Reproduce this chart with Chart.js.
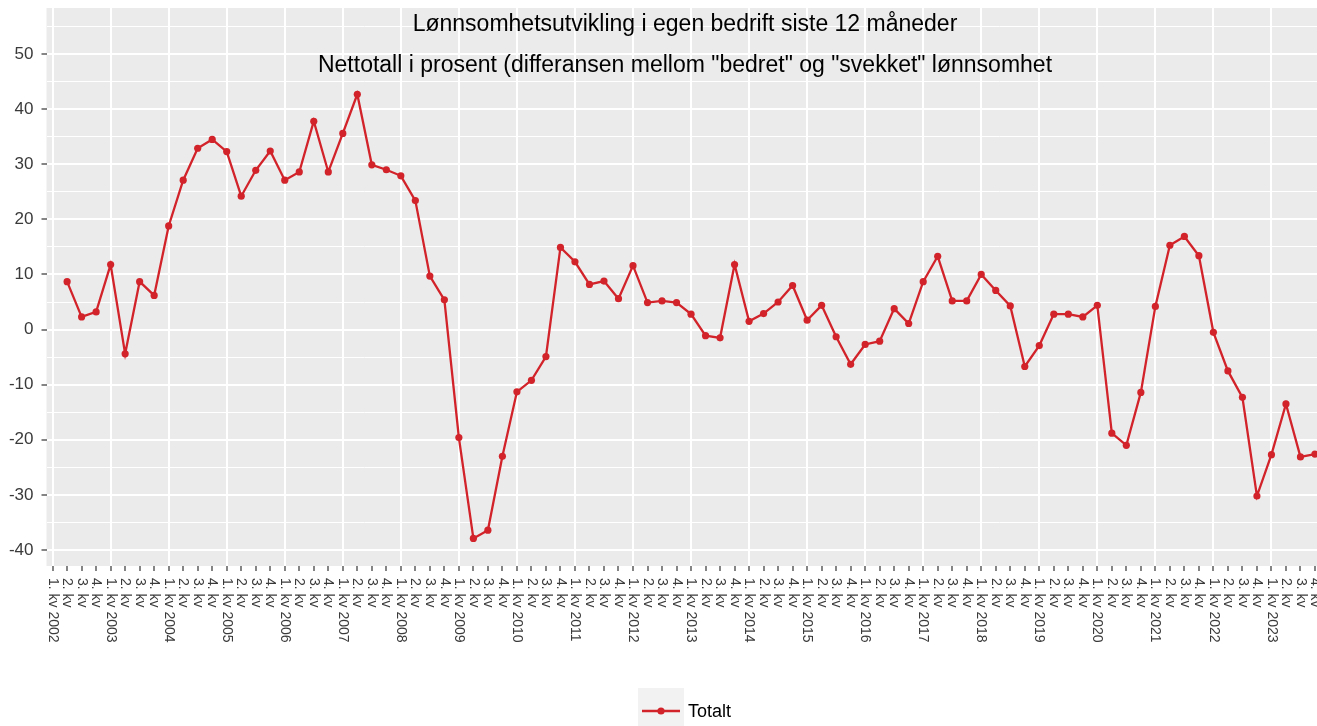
<!DOCTYPE html>
<html>
<head>
<meta charset="utf-8">
<script src="https://cdn.jsdelivr.net/npm/chart.js@4"></script>
<style>
  html, body { margin: 0; padding: 0; background: #fff; }
  canvas { display: block; }
</style>
</head>
<body>
<canvas id="lonnChart" width="1317" height="726"></canvas>
<script>
// Data
var years = [2002, 2003, 2004, 2005, 2006, 2007, 2008, 2009, 2010, 2011, 2012,
             2013, 2014, 2015, 2016, 2017, 2018, 2019, 2020, 2021, 2022, 2023];
var quarterNames = ['1. kv', '2. kv', '3. kv', '4. kv'];
var totalt = [
  null, 8.7, 2.3, 3.2,          // 2002
  11.8, -4.4, 8.7, 6.2,         // 2003
  18.8, 27.1, 32.9, 34.5,       // 2004
  32.3, 24.2, 28.9, 32.4,       // 2005
  27.1, 28.6, 37.8, 28.6,       // 2006
  35.6, 42.7, 29.9, 29.0,       // 2007
  27.9, 23.4, 9.7, 5.4,         // 2008
  -19.6, -37.9, -36.4, -23.0,   // 2009
  -11.3, -9.2, -4.9, 14.9,      // 2010
  12.3, 8.2, 8.8, 5.6,          // 2011
  11.6, 4.9, 5.2, 4.9,          // 2012
  2.8, -1.1, -1.5, 11.8,        // 2013
  1.5, 2.9, 5.0, 8.0,           // 2014
  1.7, 4.4, -1.3, -6.3,         // 2015
  -2.7, -2.1, 3.8, 1.1,         // 2016
  8.7, 13.3, 5.2, 5.2,          // 2017
  10.0, 7.1, 4.3, -6.7,         // 2018
  -2.9, 2.8, 2.8, 2.3,          // 2019
  4.4, -18.8, -21.0, -11.4,     // 2020
  4.2, 15.3, 16.9, 13.4,        // 2021
  -0.5, -7.5, -12.3, -30.2,     // 2022
  -22.7, -13.5, -23.1, -22.6    // 2023
];
var yTickValues = [-40, -35, -30, -25, -20, -15, -10, -5, 0, 5, 10, 15, 20, 25, 30, 35, 40, 45, 50, 55];
var seriesName = 'Totalt';
var titleLines = [
  'Lønnsomhetsutvikling i egen bedrift siste 12 måneder',
  'Nettotall i prosent (differansen mellom "bedret" og "svekket" lønnsomhet'
];

var quarterLabels = [];
years.forEach(function (yr) {
  quarterNames.forEach(function (q, qi) {
    quarterLabels.push(qi === 0 ? q + ' ' + yr : q);
  });
});

var FONT = '"Liberation Sans", Arial, sans-serif';
var RED = '#d2232a';

function noPad(s) {
  s.paddingTop = 0; s.paddingBottom = 0; s.paddingLeft = 0; s.paddingRight = 0;
}

var ggPlugin = {
  id: 'ggStyle',
  beforeDraw: function (chart) {
    var ctx = chart.ctx, a = chart.chartArea;
    ctx.save();
    ctx.fillStyle = '#ffffff';
    ctx.fillRect(0, 0, chart.width, chart.height);
    ctx.fillStyle = '#ebebeb';
    ctx.fillRect(a.left, a.top, a.right - a.left, a.bottom - a.top);
    ctx.restore();
  },
  afterDraw: function (chart) {
    var ctx = chart.ctx, a = chart.chartArea, xs = chart.scales.x;
    ctx.save();
    // rotated quarter labels (reading top to bottom)
    ctx.fillStyle = '#3a3a3a';
    ctx.font = '14px ' + FONT;
    ctx.textAlign = 'left';
    ctx.textBaseline = 'middle';
    quarterLabels.forEach(function (lab, i) {
      var px = xs.getPixelForValue(i);
      ctx.save();
      ctx.translate(px, a.bottom + 12);
      ctx.rotate(Math.PI / 2);
      ctx.fillText(lab, 0, 0);
      ctx.restore();
    });
    // titles inside the panel
    ctx.fillStyle = '#000';
    ctx.font = '23px ' + FONT;
    ctx.textAlign = 'center';
    ctx.fillText(titleLines[0], 685, 25);
    ctx.fillText(titleLines[1], 685, 66);
    // legend
    ctx.fillStyle = '#f2f2f2';
    ctx.fillRect(638, 688, 46, 38);
    ctx.strokeStyle = RED;
    ctx.lineWidth = 2.5;
    ctx.beginPath();
    ctx.moveTo(642, 711);
    ctx.lineTo(680, 711);
    ctx.stroke();
    ctx.fillStyle = RED;
    ctx.beginPath();
    ctx.arc(661, 711, 3.6, 0, Math.PI * 2);
    ctx.fill();
    ctx.fillStyle = '#000';
    ctx.font = '18px ' + FONT;
    ctx.textAlign = 'left';
    ctx.fillText(seriesName, 688, 712);
    ctx.restore();
  }
};

var ctxLine = document.getElementById('lonnChart').getContext('2d');
var lonnChart = new Chart(ctxLine, {
  type: 'line',
  data: {
    datasets: [{
      label: seriesName,
      data: totalt.map(function (v, i) { return { x: i, y: v }; }),
      borderColor: RED,
      backgroundColor: RED,
      borderWidth: 2.3,
      pointRadius: 3.6,
      pointHoverRadius: 3.6,
      pointBorderWidth: 0,
      pointBackgroundColor: RED,
      tension: 0
    }]
  },
  options: {
    responsive: false,
    animation: false,
    layout: { autoPadding: false, padding: { top: 8, left: 0, right: 0, bottom: 154 } },
    plugins: {
      legend: { display: false },
      tooltip: { enabled: false }
    },
    scales: {
      x: {
        type: 'linear',
        min: -0.42,
        max: 87.14,
        afterBuildTicks: function (s) {
          s.ticks = quarterLabels.map(function (l, i) { return { value: i }; });
        },
        afterFit: function (s) { s.height = 6; noPad(s); },
        ticks: { display: false },
        border: { display: false },
        grid: {
          color: function (c) {
            return c.tick && c.tick.value % 4 === 0 ? '#ffffff' : 'rgba(0,0,0,0)';
          },
          lineWidth: 2,
          drawTicks: true,
          tickLength: 5,
          tickColor: '#333333',
          tickWidth: 1.2
        }
      },
      y: {
        min: -42.9,
        max: 58.35,
        afterBuildTicks: function (s) {
          s.ticks = yTickValues.map(function (v) { return { value: v }; });
        },
        afterFit: function (s) { s.width = 46.5; noPad(s); },
        border: { display: false },
        ticks: {
          padding: 8,
          color: '#3a3a3a',
          font: { family: FONT, size: 17 },
          callback: function (v) { return v % 10 === 0 ? v : ''; }
        },
        grid: {
          color: '#ffffff',
          lineWidth: function (c) { return c.tick && c.tick.value % 10 === 0 ? 2 : 1; },
          tickLength: 5,
          tickWidth: 1.2,
          tickColor: function (c) {
            return c.tick && c.tick.value % 10 === 0 ? '#333333' : 'rgba(0,0,0,0)';
          }
        }
      }
    }
  },
  plugins: [ggPlugin]
});
</script>
</body>
</html>
